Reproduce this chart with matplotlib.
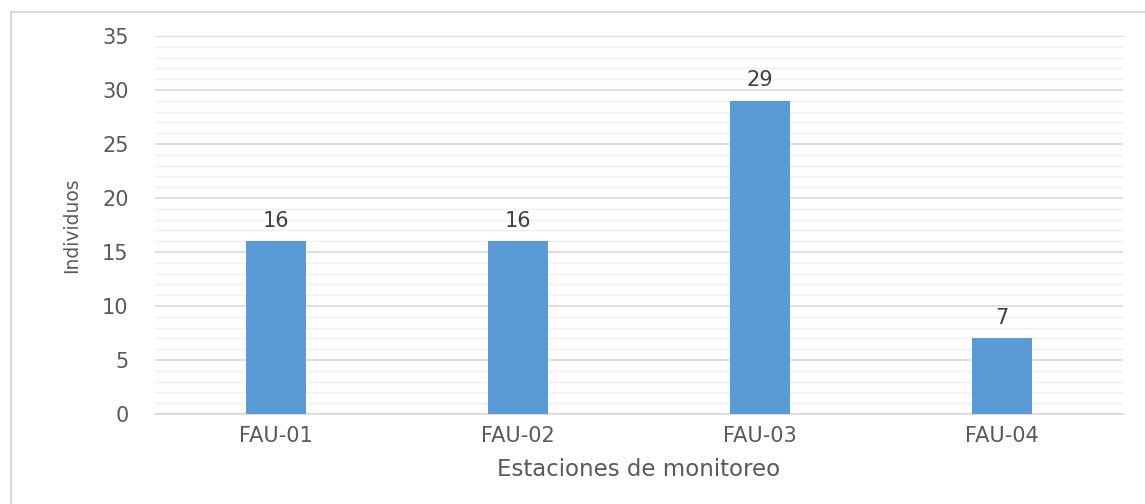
import matplotlib
matplotlib.use("Agg")
import matplotlib.pyplot as plt
from matplotlib.patches import Rectangle

categories = ["FAU-01", "FAU-02", "FAU-03", "FAU-04"]
values = [16, 16, 29, 7]
yticks = [0, 5, 10, 15, 20, 25, 30, 35]

plt.rcParams['font.family'] = ['DejaVu Sans']
text_color = "#595959"

fig = plt.figure(figsize=(11.45, 5.04), dpi=100)
ax = fig.add_axes([155/1145, 1-414/504, (1123-155)/1145, (414-36)/504])

x = range(len(categories))
bars = ax.bar(x, values, width=0.25, color="#5b9bd5", zorder=3)
for xi, v in zip(x, values):
    ax.annotate(str(v), (xi, v), xytext=(0, 7.5), textcoords="offset points",
                ha="center", va="bottom", fontsize=15, color="#404040")

ax.set_xlim(-0.5, len(categories) - 0.5)
ax.set_ylim(0, 35)
ax.set_yticks(yticks)
ax.set_yticks(range(0, 36), minor=True)
ax.set_xticks(list(x))
ax.set_xticklabels(categories)
ax.tick_params(axis="both", which="both", length=0, labelsize=15, colors=text_color)
ax.tick_params(axis="y", which="major", pad=19)
ax.tick_params(axis="x", pad=9)
ax.grid(axis="y", which="major", color="#d9d9d9", linewidth=1.2, zorder=0)
ax.grid(axis="y", which="minor", color="#efefef", linewidth=1.0, zorder=0)
for s in ["top", "right", "left"]:
    ax.spines[s].set_visible(False)
ax.spines["bottom"].set_color("#d9d9d9")
ax.spines["bottom"].set_linewidth(1.2)

ax.set_xlabel("Estaciones de monitoreo", fontsize=16.5, color=text_color, labelpad=8)
ax.set_ylabel("Individuos", fontsize=13.5, color=text_color, labelpad=15)

fig.patches.append(Rectangle((11/1145, -0.1), 1.2, (504-12)/504 + 0.1,
                             transform=fig.transFigure, fill=False,
                             edgecolor="#d9d9d9", linewidth=1.5, zorder=0))

fig.savefig("out.png", dpi=100, facecolor="white")
